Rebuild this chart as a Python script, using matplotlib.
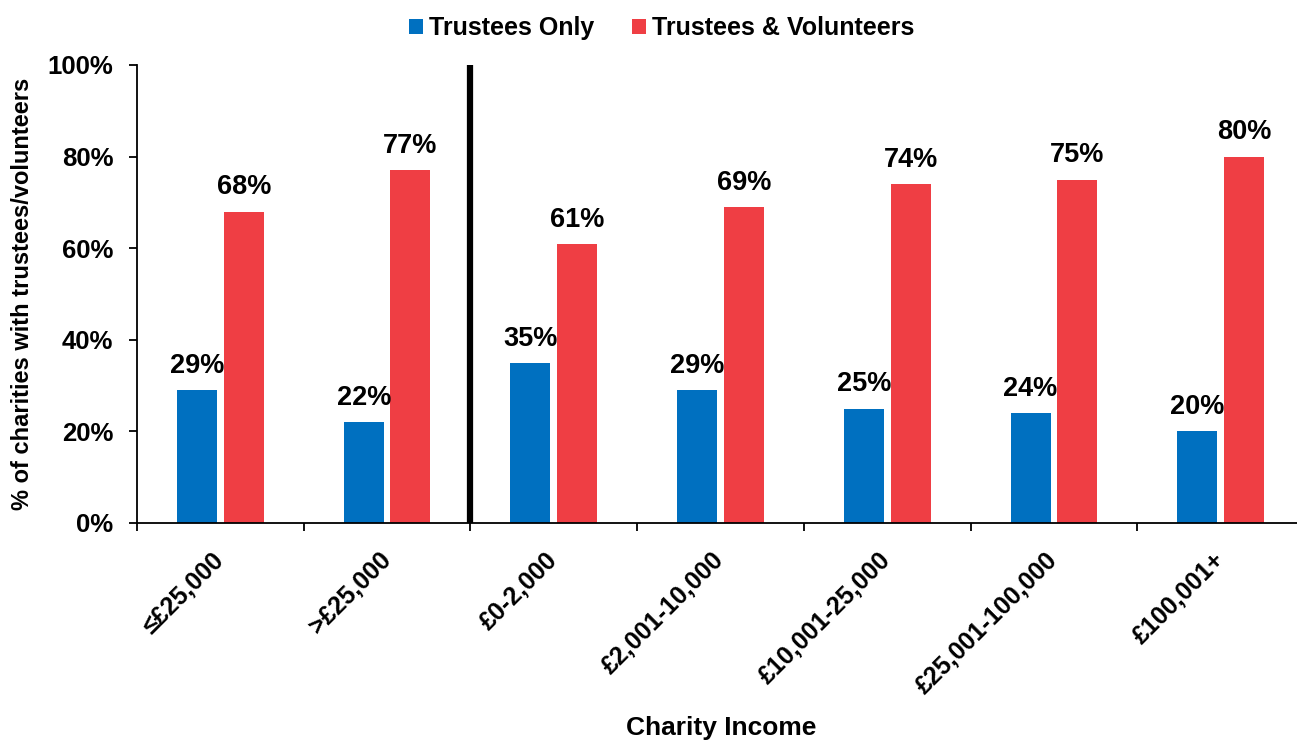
import matplotlib
matplotlib.use('Agg')
import matplotlib.pyplot as plt
import numpy as np

plt.rcParams['font.family'] = ['Liberation Sans', 'DejaVu Sans']
plt.rcParams['font.weight'] = 'bold'

categories = ['≤£25,000', '>£25,000', '£0-2,000', '£2,001-10,000',
              '£10,001-25,000', '£25,001-100,000', '£100,001+']
trustees_only = [29, 22, 35, 29, 25, 24, 20]
trustees_volunteers = [68, 77, 61, 69, 74, 75, 80]

blue = '#0070C0'
red = '#EF3E44'

fig = plt.figure(figsize=(12.97, 7.40), dpi=100)
ax = fig.add_axes([137 / 1297, 1 - 523 / 740, (1304 - 137) / 1297, (523 - 65) / 740])

x = np.arange(len(categories))
w = 0.24
b1 = ax.bar(x - 0.14, trustees_only, w, color=blue, label='Trustees Only')
b2 = ax.bar(x + 0.14, trustees_volunteers, w, color=red, label='Trustees & Volunteers')

for bars in (b1, b2):
    for bar in bars:
        h = bar.get_height()
        ax.annotate(f'{h:.0f}%', (bar.get_x() + bar.get_width() / 2, h),
                    xytext=(0, 8), textcoords='offset points',
                    ha='center', va='bottom', fontsize=19.5, fontweight='bold')

# divider between summary and detailed bands
ax.axvline(1.5, color='black', lw=4.5)

ax.set_xlim(-0.5, 6.5)
ax.set_ylim(0, 100)
ax.set_yticks(range(0, 101, 20))
ax.set_yticklabels([f'{v}%' for v in range(0, 101, 20)], fontsize=18.5, fontweight='bold')
ax.set_xticks(np.arange(-0.5, 6.5, 1))
ax.set_xticklabels([])
ax.set_xticks(x, minor=True)
ax.set_xticklabels(categories, minor=True, rotation=45, ha='right', va='center',
                   rotation_mode='anchor', fontsize=18, fontweight='bold')
ax.tick_params(axis='x', which='minor', length=0, pad=24)
ax.tick_params(axis='x', which='major', length=6, width=1.3, direction='out')
ax.tick_params(axis='y', length=6, width=1.3, pad=11)

for s in ['top', 'right']:
    ax.spines[s].set_visible(False)
for s in ['left', 'bottom']:
    ax.spines[s].set_linewidth(1.3)

ax.set_ylabel('% of charities with trustees/volunteers', fontsize=17, fontweight='bold', labelpad=10)
fig.text(721 / 1297, 1 - 728 / 740, 'Charity Income', ha='center', va='center',
         fontsize=19, fontweight='bold')

fig.legend(handles=[b1, b2], loc='center', bbox_to_anchor=(662 / 1297, 1 - 28 / 740),
           ncol=2, frameon=False, handlelength=0.56, handleheight=0.56,
           handletextpad=0.25, columnspacing=1.5, prop={'weight': 'bold', 'size': 18})

fig.savefig('out.png', dpi=100)
